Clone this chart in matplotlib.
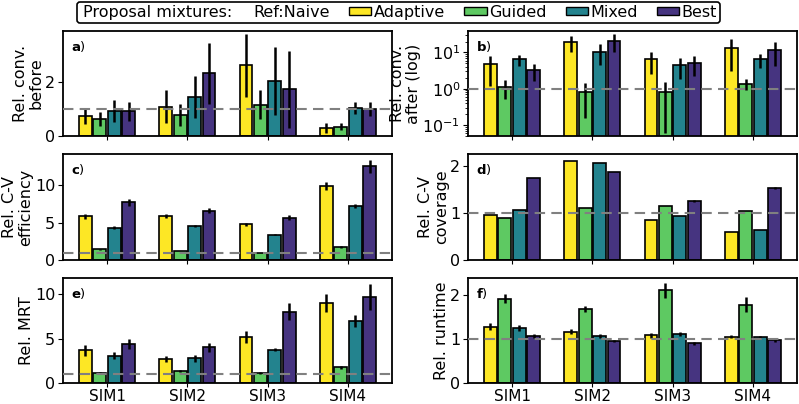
import numpy as np
import matplotlib.pyplot as plt
from matplotlib.patches import Patch

sims = ["SIM1", "SIM2", "SIM3", "SIM4"]
methods = ["Adaptive", "Guided", "Mixed", "Best"]
colors = ["#fde725", "#5ec962", "#23838e", "#463480"]

# rows = methods, cols = sims
conv_before = [[0.75, 1.10, 2.64, 0.30],
               [0.63, 0.79, 1.17, 0.34],
               [0.94, 1.46, 2.04, 1.06],
               [0.92, 2.34, 1.74, 1.00]]
conv_before_err = [[0.30, 0.60, 1.17, 0.20],
                   [0.25, 0.40, 0.53, 0.13],
                   [0.40, 0.78, 1.27, 0.22],
                   [0.35, 1.13, 1.45, 0.27]]

conv_after = [[4.7, 19.6, 6.5, 13.1],
              [1.11, 0.81, 0.81, 1.38],
              [6.5, 10.6, 4.4, 6.5],
              [3.2, 21.0, 5.2, 11.8]]
conv_after_err = [[3.5, 9.0, 4.0, 10.0],
                  [0.6, 0.65, 0.75, 0.45],
                  [2.2, 6.0, 2.6, 2.8],
                  [1.6, 11.0, 3.0, 7.5]]

cv_eff = [[5.84, 5.88, 4.82, 9.90],
          [1.42, 1.24, 0.97, 1.73],
          [4.34, 4.60, 3.40, 7.26],
          [7.74, 6.60, 5.66, 12.57]]
cv_eff_err = [[0.35, 0.30, 0.20, 0.50],
              [0.03, 0.03, 0.03, 0.10],
              [0.20, 0.15, 0.05, 0.25],
              [0.45, 0.30, 0.35, 0.85]]

cv_cov = [[0.96, 2.10, 0.84, 0.60],
          [0.89, 1.10, 1.14, 1.05],
          [1.07, 2.05, 0.93, 0.63],
          [1.73, 1.87, 1.26, 1.53]]
cv_cov_err = [[0.0, 0.0, 0.0, 0.0],
              [0.0, 0.0, 0.0, 0.0],
              [0.0, 0.0, 0.0, 0.0],
              [0.0, 0.0, 0.02, 0.03]]

mrt = [[3.68, 2.68, 5.18, 8.97],
       [1.14, 1.32, 1.10, 1.76],
       [3.05, 2.79, 3.75, 6.95],
       [4.41, 4.00, 8.01, 9.70]]
mrt_err = [[0.60, 0.30, 0.70, 1.00],
           [0.10, 0.10, 0.10, 0.15],
           [0.40, 0.40, 0.20, 0.70],
           [0.55, 0.55, 0.95, 1.45]]

runtime = [[1.28, 1.16, 1.08, 1.05],
           [1.91, 1.68, 2.10, 1.77],
           [1.24, 1.06, 1.11, 1.04],
           [1.06, 0.95, 0.90, 0.98]]
runtime_err = [[0.07, 0.06, 0.05, 0.04],
               [0.10, 0.06, 0.17, 0.17],
               [0.07, 0.04, 0.04, 0.03],
               [0.05, 0.03, 0.04, 0.04]]

plt.rcParams['font.size'] = 11.5

fig = plt.figure(figsize=(7.99, 4.04), dpi=100)
W, H = 799, 404
def ax_at(x0, x1, y0, y1):
    return fig.add_axes([x0 / W, 1 - y1 / H, (x1 - x0) / W, (y1 - y0) / H])

ax_a = ax_at(63, 392, 31, 136)
ax_b = ax_at(468, 797, 31, 136)
ax_c = ax_at(63, 392, 154, 260)
ax_d = ax_at(468, 797, 154, 260)
ax_e = ax_at(63, 392, 278, 383)
ax_f = ax_at(468, 797, 278, 383)

x = np.arange(len(sims))
width = 0.16
step = 0.18

panels = [
    (ax_a, conv_before, conv_before_err, "Rel. conv.\nbefore", "a"),
    (ax_b, conv_after, conv_after_err, "Rel. conv.\nafter (log)", "b"),
    (ax_c, cv_eff, cv_eff_err, "Rel. C-V\nefficiency", "c"),
    (ax_d, cv_cov, cv_cov_err, "Rel. C-V\ncoverage", "d"),
    (ax_e, mrt, mrt_err, "Rel. MRT", "e"),
    (ax_f, runtime, runtime_err, "Rel. runtime", "f"),
]

for ax, vals, errs, ylab, letter in panels:
    if letter == "b":
        ax.set_yscale("log")
    for i in range(len(methods)):
        ax.bar(x + (i - 1.5) * step, vals[i], width, yerr=errs[i],
               color=colors[i], edgecolor="black", linewidth=1.2,
               error_kw=dict(ecolor="black", elinewidth=1.8, capsize=0))
    ax.axhline(1, color="gray", linestyle=(0, (5, 3)), linewidth=1.5, zorder=3)
    ax.set_xlim(-0.55, 3.55)
    ax.set_xticks(x)
    ax.set_ylabel(ylab, linespacing=1.1, labelpad=1)
    ax.text(0.025, 0.92, r"$\mathbf{" + letter + "}$)", transform=ax.transAxes,
            fontsize=9.5, va="top")
    ax.tick_params(length=3.5, pad=2)
    ax.tick_params(axis="x", length=3, pad=1, labelsize=11)
    for s in ax.spines.values():
        s.set_linewidth(1.3)
    if letter in ("e", "f"):
        ax.set_xticklabels(sims)
    else:
        ax.set_xticklabels([])

ax_a.set_ylim(0, 3.92)
ax_a.set_yticks([0, 2])
ax_b.set_ylim(0.05, 39)
ax_b.set_yticks([0.1, 1, 10])
ax_c.set_ylim(0, 14.2)
ax_c.set_yticks([0, 5, 10])
ax_d.set_ylim(0, 2.25)
ax_d.set_yticks([0, 1, 2])
ax_e.set_ylim(0, 11.8)
ax_e.set_yticks([0, 5, 10])
ax_f.set_ylim(0, 2.38)
ax_f.set_yticks([0, 1, 2])

blank = Patch(visible=False)
handles = [blank, blank] + [Patch(facecolor=c, edgecolor="black") for c in colors]
labels = ["Proposal mixtures:", "Ref:Naive"] + methods
leg = fig.legend(handles, labels, loc="upper center", bbox_to_anchor=(0.499, 1.0),
                 ncol=6, handlelength=1.4, handleheight=0.45, handletextpad=0.15,
                 columnspacing=1.2, fancybox=True, edgecolor="black",
                 borderpad=0.2, borderaxespad=0.1, fontsize=11.5, framealpha=1)
leg.get_frame().set_linewidth(1.2)
# the two text-only entries get no handle space
for col in leg._legend_handle_box.get_children()[:2]:
    for entry in col.get_children():
        entry.get_children()[0].width = 0

fig.savefig("out.png", dpi=100)
